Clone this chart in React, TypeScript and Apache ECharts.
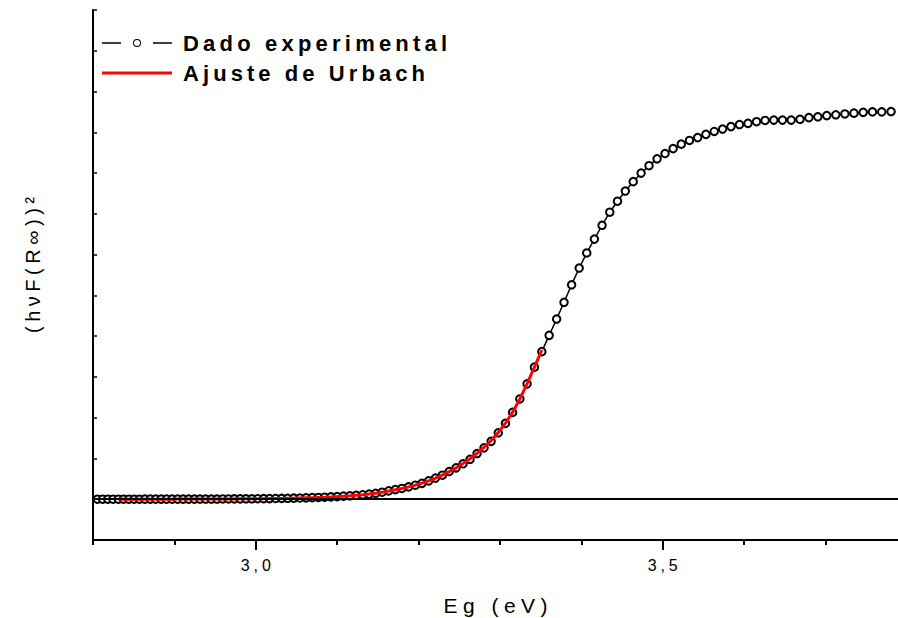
import React, { useEffect, useRef } from "react";
import * as echarts from "echarts";

// Photon energy (eV) of each measured point
const energy: number[] = [
  2.7991, 2.8054, 2.8118, 2.8182, 2.8246, 2.8311, 2.8375, 2.8440, 2.8506, 2.8571,
  2.8637, 2.8704, 2.8770, 2.8837, 2.8904, 2.8972, 2.9040, 2.9108, 2.9176, 2.9245,
  2.9314, 2.9384, 2.9454, 2.9524, 2.9594, 2.9665, 2.9736, 2.9808, 2.9880, 2.9952,
  3.0024, 3.0097, 3.0170, 3.0244, 3.0318, 3.0392, 3.0467, 3.0542, 3.0617, 3.0693,
  3.0769, 3.0846, 3.0923, 3.1000, 3.1078, 3.1156, 3.1234, 3.1313, 3.1392, 3.1472,
  3.1552, 3.1633, 3.1714, 3.1795, 3.1877, 3.1959, 3.2041, 3.2124, 3.2208, 3.2292,
  3.2376, 3.2461, 3.2546, 3.2632, 3.2718, 3.2804, 3.2891, 3.2979, 3.3067, 3.3155,
  3.3244, 3.3333, 3.3423, 3.3514, 3.3604, 3.3696, 3.3787, 3.3880, 3.3973, 3.4066,
  3.4160, 3.4254, 3.4349, 3.4444, 3.4540, 3.4637, 3.4734, 3.4831, 3.4930, 3.5028,
  3.5127, 3.5227, 3.5328, 3.5429, 3.5530, 3.5632, 3.5735, 3.5838, 3.5942, 3.6047,
  3.6152, 3.6257, 3.6364, 3.6471, 3.6578, 3.6686, 3.6795, 3.6905, 3.7015, 3.7126,
  3.7237, 3.7349, 3.7462, 3.7576, 3.7690, 3.7805,
];

// (hvF(R∞))² experimental values (arbitrary units)
const experimental: number[] = [
  0.000, 0.001, 0.001, 0.001, 0.001, 0.001, 0.001, 0.001, 0.001, 0.001,
  0.002, 0.002, 0.002, 0.002, 0.002, 0.002, 0.003, 0.003, 0.003, 0.003,
  0.004, 0.004, 0.005, 0.005, 0.006, 0.007, 0.008, 0.009, 0.010, 0.011,
  0.012, 0.014, 0.016, 0.018, 0.020, 0.023, 0.026, 0.030, 0.034, 0.039,
  0.044, 0.050, 0.057, 0.065, 0.075, 0.085, 0.097, 0.110, 0.125, 0.145,
  0.172, 0.205, 0.235, 0.265, 0.302, 0.343, 0.390, 0.450, 0.520, 0.590,
  0.680, 0.770, 0.870, 0.980, 1.120, 1.260, 1.420, 1.630, 1.860, 2.130,
  2.460, 2.830, 3.240, 3.620, 4.020, 4.420, 4.830, 5.260, 5.670, 6.040,
  6.380, 6.720, 7.040, 7.310, 7.560, 7.790, 8.000, 8.180, 8.350, 8.480,
  8.600, 8.710, 8.800, 8.870, 8.950, 9.020, 9.080, 9.140, 9.190, 9.220,
  9.260, 9.290, 9.300, 9.300, 9.300, 9.320, 9.360, 9.380, 9.410, 9.430,
  9.450, 9.470, 9.490, 9.500, 9.500, 9.510,
];

// Urbach fit
const fitEnergy: number[] = [
  2.8311, 2.8375, 2.8440, 2.8506, 2.8571, 2.8637, 2.8704, 2.8770, 2.8837, 2.8904,
  2.8972, 2.9040, 2.9108, 2.9176, 2.9245, 2.9314, 2.9384, 2.9454, 2.9524, 2.9594,
  2.9665, 2.9736, 2.9808, 2.9880, 2.9952, 3.0024, 3.0097, 3.0170, 3.0244, 3.0318,
  3.0392, 3.0467, 3.0542, 3.0617, 3.0693, 3.0769, 3.0846, 3.0923, 3.1000, 3.1078,
  3.1156, 3.1234, 3.1313, 3.1392, 3.1472, 3.1552, 3.1633, 3.1714, 3.1795, 3.1877,
  3.1959, 3.2041, 3.2124, 3.2208, 3.2292, 3.2376, 3.2461, 3.2546, 3.2632, 3.2718,
  3.2804, 3.2891, 3.2979, 3.3067, 3.3155, 3.3244, 3.3333, 3.3423, 3.3514,
];
const fitValues: number[] = [
  0.001, 0.001, 0.001, 0.001, 0.001, 0.002, 0.002, 0.002, 0.002, 0.002,
  0.002, 0.003, 0.003, 0.003, 0.004, 0.004, 0.004, 0.005, 0.005, 0.006,
  0.007, 0.008, 0.009, 0.010, 0.011, 0.013, 0.014, 0.016, 0.018, 0.020,
  0.023, 0.026, 0.030, 0.034, 0.038, 0.044, 0.050, 0.057, 0.065, 0.074,
  0.085, 0.097, 0.111, 0.127, 0.147, 0.170, 0.200, 0.232, 0.265, 0.302,
  0.345, 0.395, 0.452, 0.518, 0.592, 0.676, 0.770, 0.876, 0.995, 1.128,
  1.275, 1.440, 1.635, 1.865, 2.135, 2.460, 2.830, 3.240, 3.660,
];

const majorTicks: number[] = [3.0, 3.5];
const minorTicks: number[] = [2.8, 2.9, 3.1, 3.2, 3.3, 3.4, 3.6, 3.7];

const SERIES_EXP = "Dado experimental";
const SERIES_FIT = "Ajuste de Urbach";
const X_NAME = "Eg (eV)";
const Y_NAME = "(hνF(R∞))²";

// legend icons: line – open circle – line, and a plain red line
const ICON_EXP =
  "path://M0,3.25L19,3.25L19,4.75L0,4.75Z" +
  "M51,3.25L70,3.25L70,4.75L51,4.75Z" +
  "M31,4A4,4 0 1,0 39,4A4,4 0 1,0 31,4Z" +
  "M32,4A3,3 0 1,1 38,4A3,3 0 1,1 32,4Z";
const ICON_FIT = "path://M0,0L70,0L70,3L0,3Z";

// widths of the spaced-out texts of the reference
const SPREAD: Record<string, number> = {
  "Dado experimental": 264,
  "Ajuste de Urbach": 242,
  "3,0": 30,
  "3,5": 30,
  "Eg (eV)": 104,
  "(hνF(R∞))²": 136,
};

function spreadTexts(root: HTMLElement) {
  try {
    root.querySelectorAll("text").forEach((node) => {
      const el = node as SVGTextElement;
      const s = el.textContent || "";
      const target = SPREAD[s];
      if (!target || el.getAttribute("data-spread")) return;
      const w = el.getComputedTextLength();
      const n = Array.from(s).length;
      if (n < 2) return;
      const ls = Math.max(0, (target - w) / (n - 1));
      el.setAttribute("letter-spacing", ls.toFixed(2));
      el.setAttribute("data-spread", "1");
      const anchor = el.getAttribute("text-anchor") || el.style.textAnchor;
      const x = parseFloat(el.getAttribute("x") || "0");
      if (anchor === "middle") el.setAttribute("x", String(x + ls / 2));
      else if (anchor === "end") el.setAttribute("x", String(x + ls));
    });
  } catch (e) {
    // ignore
  }
}

export default function App() {
  const ref = useRef<HTMLDivElement>(null);

  useEffect(() => {
    document.body.style.margin = "0";
    if (!ref.current) return;
    const chart = echarts.init(ref.current, null, { renderer: "svg" });
    const font = "Liberation Sans, Arial, sans-serif";
    chart.setOption({
      animation: false,
      textStyle: { fontFamily: font, color: "#000" },
      grid: { left: 93, right: 0, top: 10, bottom: 78, outerBoundsMode: "none", containLabel: false },
      legend: {
        orient: "vertical",
        left: 102,
        top: 31,
        padding: 0,
        itemWidth: 70,
        itemHeight: 8,
        itemGap: 6,
        symbolKeepAspect: true,
        selectedMode: false,
        itemStyle: { borderWidth: 0 },
        textStyle: { fontSize: 22, fontWeight: "bold", color: "#000", fontFamily: font, lineHeight: 24, padding: [0, 0, 0, 6] },
        data: [
          { name: SERIES_EXP, icon: ICON_EXP, itemStyle: { color: "#000", borderWidth: 0 } },
          { name: SERIES_FIT, icon: ICON_FIT, itemStyle: { color: "#ff0000", borderWidth: 0 } },
        ],
      },
      xAxis: [
        {
          type: "value",
          min: 2.8,
          max: 3.789,
          position: "bottom",
          name: X_NAME,
          nameLocation: "middle",
          nameGap: 55,
          nameTextStyle: { fontSize: 21, color: "#000", fontFamily: font },
          axisLine: { show: true, onZero: false, lineStyle: { color: "#000", width: 2 } },
          axisTick: { show: true, customValues: majorTicks, length: 10, lineStyle: { color: "#000", width: 2 } },
          axisLabel: {
            show: true,
            customValues: majorTicks,
            fontSize: 16,
            color: "#000",
            margin: 17,
            formatter: (v: number) => v.toFixed(1).replace(".", ","),
          },
          splitLine: { show: false },
        },
        {
          type: "value",
          min: 2.8,
          max: 3.789,
          position: "bottom",
          axisLine: { show: false, onZero: false },
          axisTick: { show: true, customValues: minorTicks, length: 5, lineStyle: { color: "#000", width: 2 } },
          axisLabel: { show: false },
          splitLine: { show: false },
        },
      ],
      yAxis: {
        type: "value",
        min: -1,
        max: 12,
        interval: 1,
        name: Y_NAME,
        nameLocation: "middle",
        nameGap: 50,
        nameTextStyle: { fontSize: 20, color: "#000", fontFamily: font, padding: [0, 0, 0, 20] },
        axisLine: { show: true, onZero: false, lineStyle: { color: "#000", width: 2 } },
        axisTick: { show: true, inside: true, length: 4, lineStyle: { color: "#000", width: 1.5 } },
        axisLabel: { show: false },
        splitLine: { show: false },
      },
      series: [
        {
          name: SERIES_EXP,
          type: "line",
          xAxisIndex: 0,
          data: energy.map((e, i) => [e, experimental[i]]),
          symbol: "emptyCircle",
          symbolSize: 7.5,
          showSymbol: true,
          showAllSymbol: true,
          itemStyle: { color: "#000", borderColor: "#000", borderWidth: 1 },
          lineStyle: { color: "#000", width: 1.5 },
          markLine: {
            silent: true,
            symbol: ["none", "none"],
            label: { show: false },
            lineStyle: { color: "#000", width: 2, type: "solid" },
            data: [{ yAxis: 0 }],
          },
          z: 2,
        },
        {
          name: SERIES_FIT,
          type: "line",
          xAxisIndex: 0,
          data: fitEnergy.map((e, i) => [e, fitValues[i]]),
          showSymbol: false,
          symbol: "none",
          itemStyle: { color: "#ff0000" },
          lineStyle: { color: "#ff0000", width: 3 },
          z: 4,
        },
      ],
    });
    spreadTexts(ref.current);
    chart.on("finished", () => {
      if (ref.current) spreadTexts(ref.current);
    });
    return () => {
      chart.dispose();
    };
  }, []);

  return <div ref={ref} style={{ width: 898, height: 618 }} />;
}
